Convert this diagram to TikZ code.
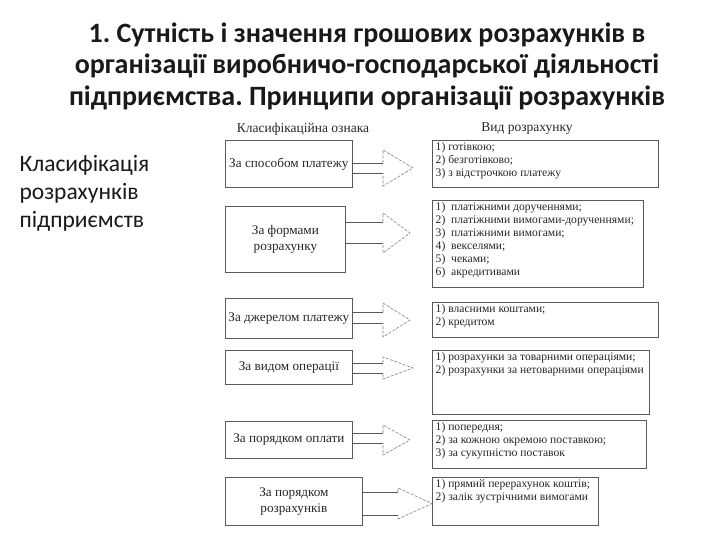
\documentclass[tikz,border=0pt]{standalone}
\usepackage{fontspec}
\setmainfont{Liberation Serif}
\newfontfamily\carl{Carlito}
\newfontfamily\carlb{Carlito Bold}
\frenchspacing
\tikzset{
  boxline/.style={draw=black!65, line width=0.8pt, anchor=north west, inner sep=0pt, text=black!85},
  lbox/.style={boxline, align=center, font=\fontsize{13.2}{15.5}\selectfont},
  rtext/.style={anchor=north west, align=left, inner xsep=3.5pt, inner ysep=2pt, text=black!85, font=\fontsize{11.6}{13}\selectfont},
  shaftline/.style={draw=black!65, line width=0.8pt},
  headline/.style={draw=black!50, line width=0.6pt, dash pattern=on 3pt off 1.5pt},
}
\newcommand{\rowarrow}[7]{%
  \coordinate (#1st) at (#4,#2);
  \coordinate (#1sb) at (#4,#3);
  \coordinate (#1ht) at (#4,#5);
  \coordinate (#1hb) at (#4,#6);
  \coordinate (#1tp) at (#7,{(#5+#6)/2});
  \draw[shaftline] (#1.east |- #1st) -- (#1st);
  \draw[shaftline] (#1.east |- #1sb) -- (#1sb);
  \draw[headline] (#1st) -- (#1ht) -- (#1tp) -- (#1hb) -- (#1sb);
}
\begin{document}
\begin{tikzpicture}[x=1pt,y=-1pt]
\useasboundingbox (0,0) rectangle (720,540);
% title
\node[align=center, font=\carlb\fontsize{28}{31.5}\selectfont, text=black!90] (title) at (367,66)
  {1. Сутність і значення грошових розрахунків в\\організації виробничо-господарської діяльності\\підприємства. Принципи організації розрахунків};
% left label
\node[anchor=west, align=left, font=\carl\fontsize{23.5}{28}\selectfont, text=black!90] (lab) at (16,193)
  {Класифікація\\розрахунків\\підприємств};
% headers
\node[font=\fontsize{13.5}{15}\selectfont, text=black!85] (h1) at (303,129) {Класифікаційна ознака};
\node[font=\fontsize{13.5}{15}\selectfont, text=black!85] (h2) at (527,129) {Вид розрахунку};
% left boxes
\node[lbox, minimum width=127pt, minimum height=47pt] (l1) at (225,140) {За способом платежу};
\node[lbox, minimum width=120pt, minimum height=66pt] (l2) at (225,206) {За формами\\розрахунку};
\node[lbox, minimum width=127pt, minimum height=40pt] (l3) at (225,298) {За джерелом платежу};
\node[lbox, minimum width=127pt, minimum height=34pt] (l4) at (225,350) {За видом операції};
\node[lbox, minimum width=127pt, minimum height=37pt] (l5) at (225,421) {За порядком оплати};
\node[lbox, minimum width=137pt, minimum height=48pt] (l6) at (225,477) {За порядком\\розрахунків};
% right boxes
\node[boxline, minimum width=226pt, minimum height=47pt] (r1) at (432,140) {};
\node[rtext] (t1) at (r1.north west) {1) готівкою;\\2) безготівково;\\3) з відстрочкою платежу};
\node[boxline, minimum width=211pt, minimum height=87pt] (r2) at (432,200) {};
\node[rtext] (t2) at (r2.north west) {1)\ \ платіжними дорученнями;\\2)\ \ платіжними вимогами-дорученнями;\\3)\ \ платіжними вимогами;\\4)\ \ векселями;\\5)\ \ чеками;\\6)\ \ акредитивами};
\node[boxline, minimum width=226pt, minimum height=35pt] (r3) at (432,302) {};
\node[rtext] (t3) at (r3.north west) {1) власними коштами;\\2) кредитом};
\node[boxline, minimum width=217pt, minimum height=64pt] (r4) at (432,350) {};
\node[rtext] (t4) at (r4.north west) {1)\ розрахунки за товарними операціями;\\2)\ розрахунки за нетоварними операціями};
\node[boxline, minimum width=214pt, minimum height=48pt] (r5) at (432,420) {};
\node[rtext] (t5) at (r5.north west) {1) попередня;\\2) за кожною окремою поставкою;\\3) за сукупністю поставок};
\node[boxline, minimum width=166pt, minimum height=48pt] (r6) at (432,477) {};
\node[rtext] (t6) at (r6.north west) {1) прямий перерахунок коштів;\\2) залік зустрічними вимогами};
% arrows
\rowarrow{l1}{163}{173}{383}{150}{186}{413}
\rowarrow{l2}{222}{243}{383}{213}{253}{410}
\rowarrow{l3}{312}{323}{383}{303}{337}{410}
\rowarrow{l4}{363}{373}{383}{357}{379}{413}
\rowarrow{l5}{433}{443}{383}{425}{455}{410}
\rowarrow{l6}{492}{515}{398}{488}{519}{432}
\end{tikzpicture}
\end{document}
